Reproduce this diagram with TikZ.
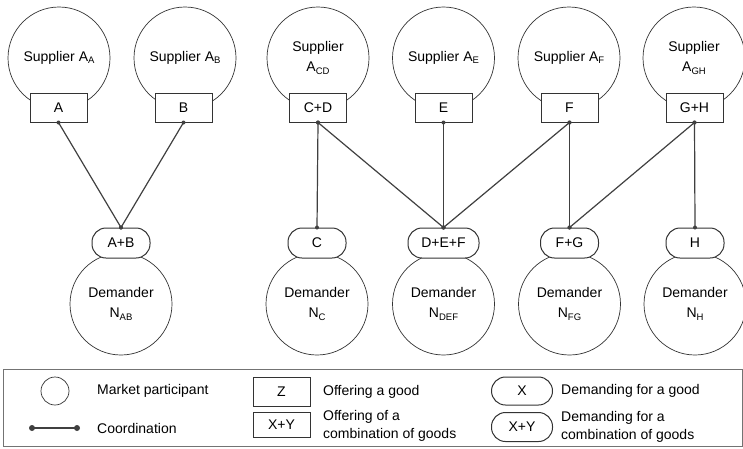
\documentclass[tikz,border=0pt]{standalone}
\usepackage{fontspec}
\setmainfont{Liberation Sans}
\newcommand{\subtxt}[1]{\raisebox{-0.3ex}{\fontsize{9.5}{10}\selectfont #1}}
\begin{document}
\begin{tikzpicture}[x=1pt,y=-1pt,
  every node/.style={font=\fontsize{14}{20}\selectfont, text=black, inner sep=0pt},
  participant/.style={circle, draw=black!80, line width=0.7pt, minimum size=102pt, align=center},
  offer/.style={rectangle, draw=black!80, line width=1pt, fill=white, minimum width=57pt, minimum height=29pt},
  demand/.style={rectangle, rounded corners=14pt, draw=black!80, line width=1pt, fill=white, minimum width=58pt, minimum height=30pt},
  coord/.style={draw=black!75, line width=1.2pt},
  dotc/.style={fill=black!75},
  legtext/.style={anchor=west, align=left, font=\fontsize{14}{18}\selectfont}
]
\useasboundingbox (0,0) rectangle (743,448);

% suppliers
\node[participant] (sA)  at (59,58)    {\raisebox{-1pt}{Supplier A\subtxt{A}}};
\node[participant] (sB)  at (185,58)   {\raisebox{-1pt}{Supplier A\subtxt{B}}};
\node[participant] (sCD) at (318,58)   {Supplier\\A\subtxt{CD}};
\node[participant] (sE)  at (443.5,58) {\raisebox{-1pt}{Supplier A\subtxt{E}}};
\node[participant] (sF)  at (569,58)   {\raisebox{-1pt}{Supplier A\subtxt{F}}};
\node[participant] (sGH) at (694,58)   {Supplier\\A\subtxt{GH}};

\node[offer] (bA)  at (58.5,107.5)  {A};
\node[offer] (bB)  at (183.5,107.5) {B};
\node[offer] (bCD) at (318,107.5)   {C+D};
\node[offer] (bE)  at (443.5,107.5) {E};
\node[offer] (bF)  at (569.5,107.5) {F};
\node[offer] (bGH) at (694.5,107.5) {G+H};

% demanders
\node[participant] (dAB)  at (121,304)   {Demander\\N\subtxt{AB}};
\node[participant] (dC)   at (317,304)   {Demander\\N\subtxt{C}};
\node[participant] (dDEF) at (443.5,304) {Demander\\N\subtxt{DEF}};
\node[participant] (dFG)  at (569.5,304) {Demander\\N\subtxt{FG}};
\node[participant] (dH)   at (695,304)   {Demander\\N\subtxt{H}};

\node[demand] (pAB)  at (121,243)   {A+B};
\node[demand] (pC)   at (317,243)   {C};
\node[demand, minimum width=71pt] (pDEF) at (443.5,243) {D+E+F};
\node[demand] (pFG)  at (569.5,243) {F+G};
\node[demand] (pH)   at (695,243)   {H};

% connectors
\foreach \a/\b in {bA/pAB, bB/pAB, bCD/pC, bCD/pDEF, bE/pDEF, bF/pDEF, bF/pFG, bGH/pFG, bGH/pH}{
  \draw[coord] (\a.south) -- (\b.north);
  \fill[dotc] (\a.south) circle (2pt);
  \fill[dotc] (\b.north) circle (2pt);
}

% legend
\draw[black!55, line width=0.9pt] (3,369) rectangle (742,446);
\node[circle, draw=black!80, line width=0.7pt, minimum size=28pt] (lc) at (55,391) {};
\node[legtext] (lct) at (97,391) {Market participant};
\coordinate (l1) at (32,428);
\coordinate (l2) at (77,428);
\draw[coord] (l1) -- (l2);
\fill[dotc] (l1) circle (3pt);
\fill[dotc] (l2) circle (3pt);
\node[legtext] (lcoord) at (97,428) {Coordination};

\node[offer] (lz) at (281.5,392) {Z};
\node[legtext] (lzt) at (323,392) {Offering a good};
\node[offer, minimum height=25pt] (lxy) at (281.5,425) {X+Y};
\node[legtext] (lxyt) at (323,426) {Offering of a\\combination of goods};

\node[demand, minimum width=61pt, minimum height=28pt] (lx) at (522,391) {X};
\node[legtext] (lxt) at (561,391) {Demanding for a good};
\node[demand, minimum width=61pt, minimum height=29pt] (lpxy) at (522,427) {X+Y};
\node[legtext] (lpxyt) at (561,427) {Demanding for a\\combination of goods};
\end{tikzpicture}
\end{document}
